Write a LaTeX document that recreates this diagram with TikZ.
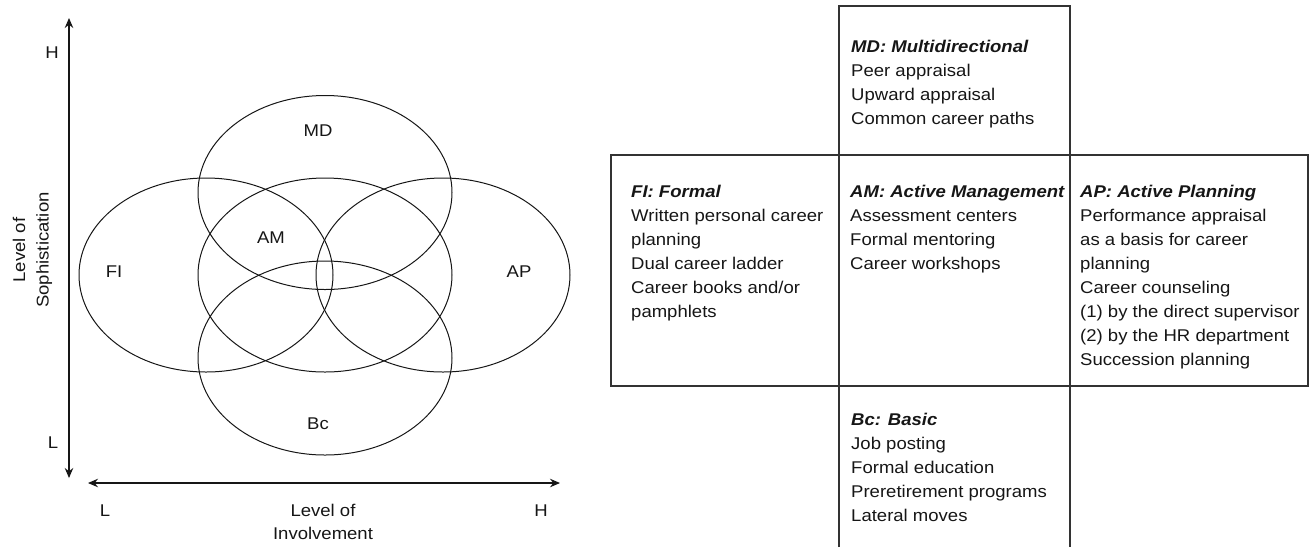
\documentclass[tikz,border=0pt]{standalone}
\usepackage{fontspec}
\setmainfont{Liberation Sans}[FakeStretch=1.09]
\usetikzlibrary{shapes.geometric,arrows.meta}
\definecolor{ink}{HTML}{161616}
\definecolor{rulegray}{HTML}{333333}
\begin{document}
\begin{tikzpicture}[x=1pt,y=-1pt,
  lbl/.style={font=\fontsize{17}{23.5}\selectfont, text=ink, inner sep=0pt},
  blob/.style={draw=ink, line width=1pt, ellipse, minimum width=254pt,
               minimum height=194pt, inner sep=0pt},
  axis/.style={draw=ink, line width=1.1pt,
               {Stealth[length=10pt,width=8.5pt]}-{Stealth[length=10pt,width=8.5pt]}},
  gridline/.style={draw=rulegray, line width=1.4pt},
  cell/.style={font=\fontsize{17}{24}\selectfont, text=ink, inner sep=0pt,
               anchor=north west, align=left},
]
\useasboundingbox (0,0) rectangle (1309,547);

% ---- overlapping practice clusters ----
\node[blob] (md) at (325,192.5) {};
\node[blob] (fi) at (206,275) {};
\node[blob] (am) at (325,275) {};
\node[blob] (ap) at (443,275) {};
\node[blob] (bc) at (325,358) {};

\node[lbl] (mdl) at (318,131) {MD};
\node[lbl] (aml) at (271,238) {AM};
\node[lbl] (fil) at (114,272) {FI};
\node[lbl] (apl) at (519,272) {AP};
\node[lbl] (bcl) at (318,424) {Bc};

% ---- axes ----
\coordinate (ytop) at (69,18);
\coordinate (ybot) at (69,478);
\coordinate (xlo) at (88,483);
\coordinate (xhi) at (560,483);
\draw[axis] (ybot) -- (ytop);
\draw[axis] (xlo) -- (xhi);

\node[lbl] (yh) at (52,53) {H};
\node[lbl] (yl) at (53,443) {L};
\node[lbl] (xl) at (105,511) {L};
\node[lbl] (xh) at (541,511) {H};
\node[lbl, rotate=90, anchor=north, align=center] (ytitle) at (12,250)
  {\rule{0pt}{13pt}Level of\\Sophistication};
\node[lbl, anchor=north, align=center] (xtitle) at (323,503)
  {\rule{0pt}{13pt}Level of\\Involvement};

% ---- cross-shaped table ----
\draw[gridline] (839,547) -- (839,6) -- (1070,6) -- (1070,547);
\draw[gridline] (611,155) rectangle (1308,386);

\node[cell] (mdt) at (851,39)
  {\rule{0pt}{13pt}\textbf{\textit{MD: Multidirectional}}\\
   Peer appraisal\\Upward appraisal\\Common career paths};
\node[cell] (fit) at (631,184)
  {\rule{0pt}{13pt}\textbf{\textit{FI: Formal}}\\
   Written personal career\\planning\\Dual career ladder\\
   Career books and/or\\pamphlets};
\node[cell] (amt) at (850,184)
  {\rule{0pt}{13pt}\textbf{\textit{AM: Active Management}}\\
   Assessment centers\\Formal mentoring\\Career workshops};
\node[cell] (apt) at (1080,184)
  {\rule{0pt}{13pt}\textbf{\textit{AP: Active Planning}}\\
   Performance appraisal\\as a basis for career\\planning\\
   Career counseling\\(1) by the direct supervisor\\
   (2) by the HR department\\Succession planning};
\node[cell] (bct) at (851,412)
  {\rule{0pt}{13pt}\textbf{\textit{Bc: Basic}}\\
   Job posting\\Formal education\\Preretirement programs\\Lateral moves};
\end{tikzpicture}
\end{document}
